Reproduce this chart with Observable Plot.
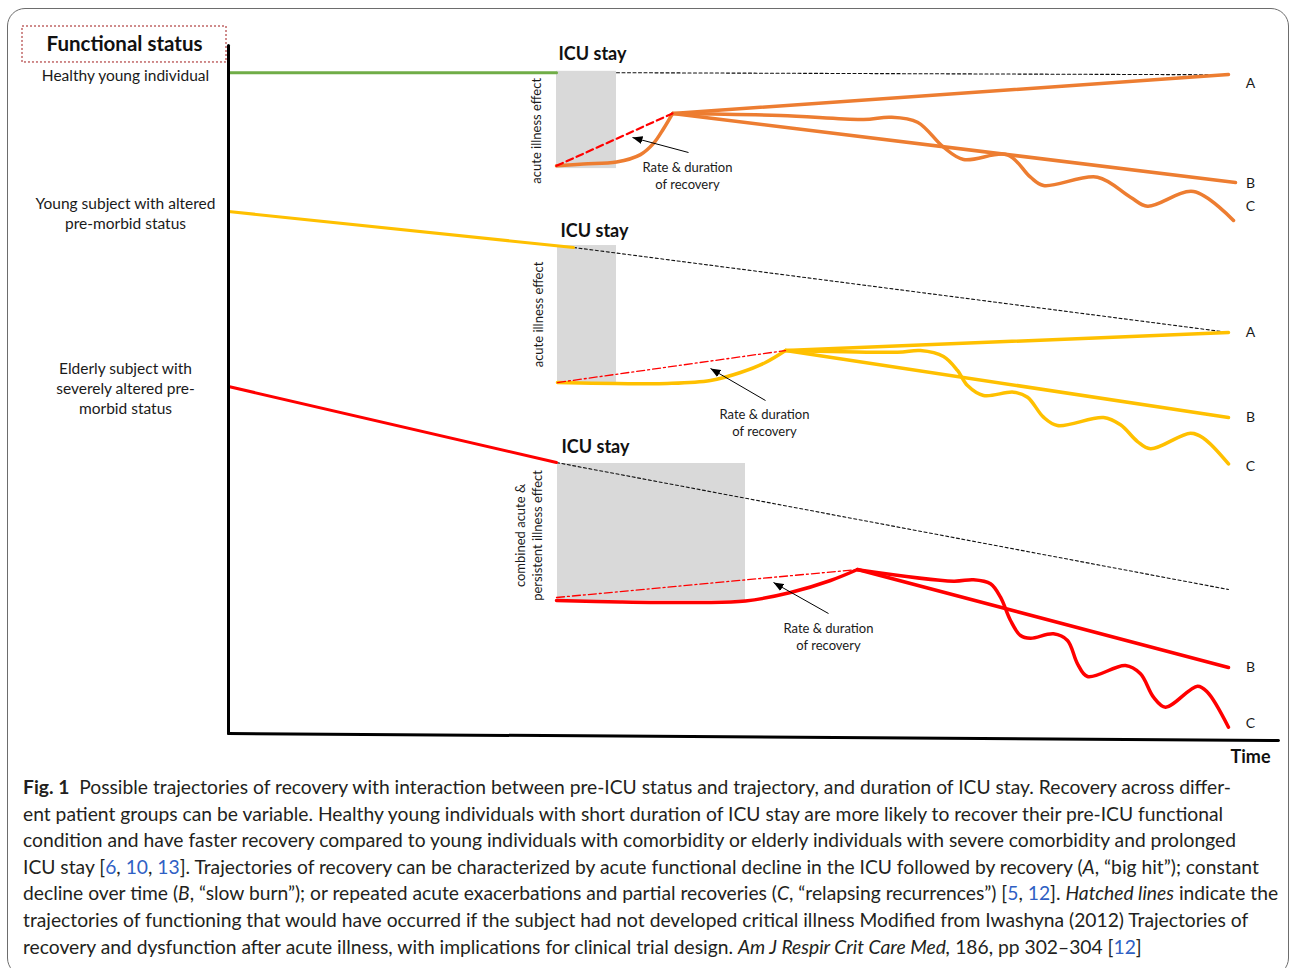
<!DOCTYPE html>
<html><head><meta charset="utf-8">
<script src="https://cdn.jsdelivr.net/npm/d3@7"></script>
<script src="https://cdn.jsdelivr.net/npm/@observablehq/plot@0.6"></script>
<style>
body{margin:0;background:#fff;width:1290px;height:968px;position:relative;overflow:hidden;font-family:Lato,sans-serif}
#frame{position:absolute;left:7px;top:8px;width:1282px;height:968px;border:1.5px solid #6d6d6d;border-radius:18px;box-sizing:border-box}
#chart{position:absolute;left:0;top:0}
#caption{position:absolute;left:23px;top:774px;font-family:Lato,sans-serif;font-size:19.25px;line-height:26.6px;color:#231f20;white-space:nowrap}
#caption .r{color:#2f5fc4}
</style></head><body>
<div id="frame"></div>
<div id="chart"></div>
<div id="caption">
<div><b>Fig. 1</b>&nbsp; Possible trajectories of recovery with interaction between pre-ICU status and trajectory, and duration of ICU stay. Recovery across differ-</div>
<div>ent patient groups can be variable. Healthy young individuals with short duration of ICU stay are more likely to recover their pre-ICU functional</div>
<div>condition and have faster recovery compared to young individuals with comorbidity or elderly individuals with severe comorbidity and prolonged</div>
<div>ICU stay [<span class="r">6</span>, <span class="r">10</span>, <span class="r">13</span>]. Trajectories of recovery can be characterized by acute functional decline in the ICU followed by recovery (<i>A</i>, “big hit”); constant</div>
<div>decline over time (<i>B</i>, “slow burn”); or repeated acute exacerbations and partial recoveries (<i>C</i>, “relapsing recurrences”) [<span class="r">5</span>, <span class="r">12</span>]. <i>Hatched lines</i> indicate the</div>
<div>trajectories of functioning that would have occurred if the subject had not developed critical illness Modified from Iwashyna (2012) Trajectories of</div>
<div>recovery and dysfunction after acute illness, with implications for clinical trial design. <i>Am J Respir Crit Care Med,</i> 186, pp 302–304 [<span class="r">12</span>]</div>
</div>
<script>
// time (t) and functional status (f), conceptual units
// Healthy young individual
const healthyPre = [[0,94.4],[32.8,94.4]];
const healthyCounterfactual = [[38.8,94.4],[100,94.1]];
const healthyIdeal = [[32.8,81.1],[44.4,88.57]];
const healthyRecovery = [[32.8,81.1],[35.5,81.36],[38.8,81.64],[41.2,82.7],[42.5,84.3],[43.5,86.4],[44.4,88.57]];
const healthyA = [[44.4,88.57],[100,94.14]];
const healthyB = [[44.4,88.57],[100.7,78.71]];
const healthyC = [[44.4,88.57],[55.2,88.29],[63.5,87.71],[66.2,88.04],[68.9,87.33],[71.5,83.76],[73.5,82.0],[77.9,82.67],[80.2,79.47],[81.5,78.29],[86.9,79.47],[90.2,76.61],[91.9,75.33],[96.5,77.43],[100.5,73.29]];
// Young subject with altered pre-morbid status
const youngPre = [[0,74.57],[34.5,69.43]];
const youngCounterfactual = [[34.5,69.43],[100,57.3]];
const youngIdeal = [[32.9,50.14],[55.7,54.71]];
const youngRecovery = [[32.9,50.14],[38.8,50.0],[43.9,50.0],[48.2,50.43],[51.2,51.57],[53.7,53.0],[55.7,54.71]];
const youngA = [[55.7,54.71],[100,57.29]];
const youngB = [[55.7,54.71],[100,45.14]];
const youngC = [[55.7,54.71],[66.9,54.47],[69.2,54.71],[71.5,53.86],[72.9,51.86],[73.9,49.71],[75.5,48.29],[78.5,48.76],[79.9,48.04],[81.5,45.19],[82.9,44.0],[87.5,45.14],[89.2,44.1],[90.9,41.71],[92.2,40.67],[96.2,42.9],[97.5,42.19],[100,38.52]];
// Elderly subject with severely altered pre-morbid status
const elderlyPre = [[0,49.57],[32.8,38.71]];
const elderlyCounterfactual = [[32.8,38.71],[100,20.57]];
const elderlyIdeal = [[32.8,19.43],[62.9,23.43]];
const elderlyRecovery = [[32.8,19.0],[39.2,18.79],[47.2,18.71],[51.7,18.93],[56.2,20.14],[60.2,21.86],[62.9,23.43]];
const elderlyB = [[62.9,23.43],[100,9.43]];
const elderlyC = [[62.9,23.4],[72.5,21.76],[74.5,21.96],[76.2,21.39],[77.2,19.47],[78.2,16.14],[79.2,14.0],[80.2,13.61],[82.5,14.24],[83.9,13.29],[84.9,9.96],[85.9,8.14],[89.7,9.71],[91.2,8.53],[92.5,5.19],[93.7,3.76],[96.9,6.76],[97.9,5.9],[100,0.9]];
// ICU stays
const icuStays = [{t1:32.8,t2:38.8,f1:80.7,f2:94.6},{t1:32.9,t2:38.8,f1:50.14,f2:69.71},{t1:32.9,t2:51.7,f1:19.0,f2:38.57}];
const icuLabels = [{t:33.0,f:97.0},{t:33.2,f:71.7},{t:33.3,f:40.86}];
const effectLabels = [{t:30.7,f:86.1,text:"acute illness effect"},{t:30.9,f:59.86,text:"acute illness effect"},{t:29.95,f:28.29,text:"combined acute &\npersistent illness effect"}];
const rateLabels = [{t:45.9,f:79.79},{t:53.6,f:44.5},{t:60.0,f:13.93}];
const rateArrows = [{t1:46.0,f1:83.0,t2:40.4,f2:85.14},{t1:53.7,f1:47.57,t2:48.2,f2:52.14},{t1:60.0,f1:17.14,t2:54.5,f2:21.57}];
const trajectoryLabels = [{f:92.86,text:"A"},{f:78.57,text:"B"},{f:75.29,text:"C"},{f:57.29,text:"A"},{f:45.14,text:"B"},{f:38.14,text:"C"},{f:9.43,text:"B"},{f:1.43,text:"C"}];
const groupLabels = [{f:94.2,text:"Healthy young individual"},{f:74.43,text:"Young subject with altered\npre-morbid status"},{f:49.43,text:"Elderly subject with\nseverely altered pre-\nmorbid status"}];
const yAxisLine = [[0,0],[0,98.3]];
const xAxisLine = [[0,0],[105,-1]];
const titleBox = [{t1:-20.6,t2:-0.2,f1:95.86,f2:101}];

const X = d => d[0], Y = d => d[1];
const ln = (data, o) => Plot.line(data, {x:X, y:Y, ...o});
const GREEN="#70ad47", ORANGE="#ed7d31", YELLOW="#ffc000", RED="#ff0000";
const dash = {stroke:"#111", strokeWidth:1.1, strokeDasharray:"3,2.5"};
const dashdot = {stroke:RED, strokeWidth:1.3, strokeDasharray:"8,3,2,3"};

function filledArrow(color, context) {
  const doc = (context && context.document) || document;
  const ns = "http://www.w3.org/2000/svg";
  const m = doc.createElementNS(ns, "marker");
  m.setAttribute("viewBox", "-10 -5 10 10");
  m.setAttribute("markerWidth", "10");
  m.setAttribute("markerHeight", "10");
  m.setAttribute("markerUnits", "userSpaceOnUse");
  m.setAttribute("orient", "auto");
  m.setAttribute("fill", color);
  m.setAttribute("stroke", "none");
  const p = doc.createElementNS(ns, "path");
  p.setAttribute("d", "M-10,-4L0,0L-10,4Z");
  m.appendChild(p);
  return m;
}

const chart = Plot.plot({
  width:1290, height:770, margin:0,
  x:{domain:[0,105], range:[228,1278], axis:null},
  y:{domain:[0,100], range:[733,33], axis:null},
  style:{fontFamily:"Lato, sans-serif", background:"transparent", color:"#1a1a1a", overflow:"visible"},
  marks:[
    Plot.rect(icuStays, {x1:"t1", x2:"t2", y1:"f1", y2:"f2", fill:"#d9d9d9"}),
    Plot.rect(titleBox, {x1:"t1", x2:"t2", y1:"f1", y2:"f2", fill:"none", stroke:"#a01818", strokeWidth:1, strokeDasharray:"2,2"}),
    ln(healthyCounterfactual, dash),
    ln(youngCounterfactual, dash),
    ln(elderlyCounterfactual, dash),
    ln(healthyPre, {stroke:GREEN, strokeWidth:3}),
    ln(healthyA, {stroke:ORANGE, strokeWidth:3.5}),
    ln(healthyB, {stroke:ORANGE, strokeWidth:3.5}),
    ln(healthyC, {stroke:ORANGE, strokeWidth:3.5, curve:"catmull-rom"}),
    ln(healthyRecovery, {stroke:ORANGE, strokeWidth:3.5, curve:"catmull-rom"}),
    ln(healthyIdeal, {stroke:RED, strokeWidth:2.2, strokeDasharray:"7,4"}),
    ln(youngPre, {stroke:YELLOW, strokeWidth:3}),
    ln(youngA, {stroke:YELLOW, strokeWidth:3.5}),
    ln(youngB, {stroke:YELLOW, strokeWidth:3.5}),
    ln(youngC, {stroke:YELLOW, strokeWidth:3.5, curve:"catmull-rom"}),
    ln(youngRecovery, {stroke:YELLOW, strokeWidth:3.5, curve:"catmull-rom"}),
    ln(youngIdeal, dashdot),
    ln(elderlyPre, {stroke:RED, strokeWidth:3}),
    ln(elderlyB, {stroke:RED, strokeWidth:3.5}),
    ln(elderlyC, {stroke:RED, strokeWidth:3.5, curve:"catmull-rom"}),
    ln(elderlyRecovery, {stroke:RED, strokeWidth:3.5, curve:"catmull-rom"}),
    ln(elderlyIdeal, dashdot),
    ln(yAxisLine, {stroke:"#000", strokeWidth:3}),
    ln(xAxisLine, {stroke:"#000", strokeWidth:3}),
    Plot.link(rateArrows, {x1:"t1", y1:"f1", x2:"t2", y2:"f2", stroke:"#000", strokeWidth:1, markerEnd:filledArrow}),
    Plot.text(icuLabels, {x:"t", y:"f", text:() => "ICU stay", textAnchor:"start", fontSize:18, fontWeight:"bold", fill:"#111"}),
    Plot.text(effectLabels, {x:"t", y:"f", text:"text", rotate:-90, fontSize:13, lineHeight:1.3, fill:"#1a1a1a"}),
    Plot.text(rateLabels, {x:"t", y:"f", text:() => "Rate & duration\nof recovery", fontSize:13, lineHeight:1.3, fill:"#1a1a1a"}),
    Plot.text(trajectoryLabels, {x:() => 102.2, y:"f", text:"text", fontSize:14, fill:"#1a1a1a"}),
    Plot.text(groupLabels, {x:() => -10.3, y:"f", text:"text", fontSize:15.5, lineHeight:1.3, fill:"#1a1a1a"}),
    Plot.text(["Functional status"], {x:() => -10.4, y:() => 98.43, text:d => d, fontSize:20.5, fontWeight:"bold", fill:"#111"}),
    Plot.text(["Time"], {x:() => 104.2, y:() => -3.43, text:d => d, textAnchor:"end", fontSize:18, fontWeight:"bold", fill:"#111"})
  ]
});
document.getElementById("chart").append(chart);
</script>
</body></html>
